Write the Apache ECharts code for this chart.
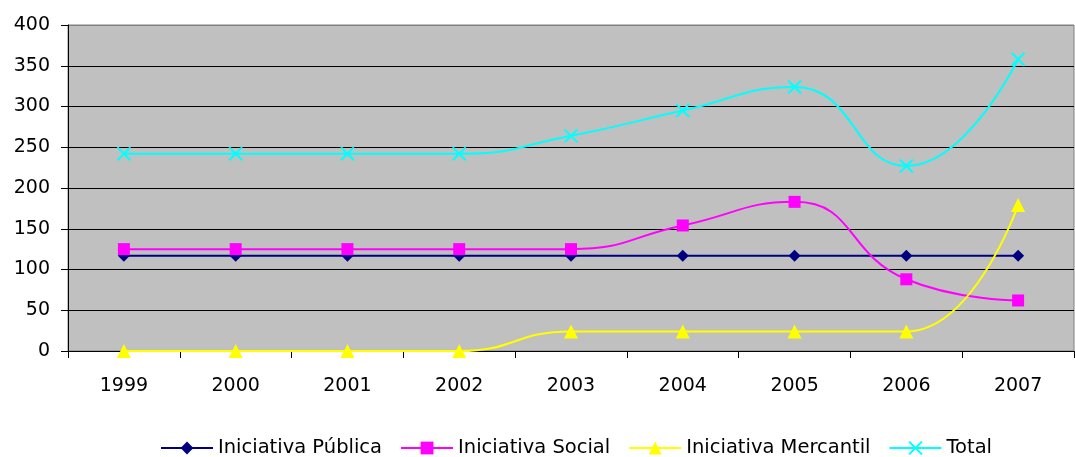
<!DOCTYPE html>
<html>
<head>
<meta charset="utf-8">
<script src="https://cdn.jsdelivr.net/npm/echarts@6/dist/echarts.min.js"></script>
<style>
html,body{margin:0;padding:0;background:#fff;}
#chart{width:1075px;height:457px;}
</style>
</head>
<body>
<div id="chart"></div>
<script>
const years = ['1999','2000','2001','2002','2003','2004','2005','2006','2007'];
const publica = [117,117,117,117,117,117,117,117,117];
const social = [125,125,125,125,125,154,183,88,62];
const mercantil = [0,0,0,0,24,24,24,24,179];
const total = [242,242,242,242,264,295,324,227,358];
const yTicks = {min:0, max:400, interval:50};

const FONT = '"DejaVu Sans", "Liberation Sans", Arial, sans-serif';
const chart = echarts.init(document.getElementById('chart'));
const gridColors = ['#000','#000','#000','#000','#000','#000','#000','#000','#808080'];
function mk(name, data, color, symbol, size, extra) {
  return Object.assign({
    name, type:'line', data, smooth:true, symbol, symbolSize:size,
    showSymbol:true,
    lineStyle:{color, width:2},
    itemStyle:{color},
    emphasis:{disabled:true},
    animation:false
  }, extra||{});
}
chart.setOption({
  animation:false,
  backgroundColor:'#fff',
  textStyle:{fontFamily:FONT},
  grid:{left:68, right:1, top:25, bottom:106, show:true, backgroundColor:'#C0C0C0', borderColor:'#808080', borderWidth:1},
  legend:{
    top:438, left:160, padding:0, itemWidth:52, itemHeight:16, itemGap:18,
    textStyle:{fontFamily:FONT, fontSize:19.5, color:'#000'},
    data:['Iniciativa Pública','Iniciativa Social','Iniciativa Mercantil','Total']
  },
  xAxis:{
    type:'category', data:years, boundaryGap:true,
    axisLine:{lineStyle:{color:'#000', width:1}},
    axisTick:{show:true, length:7, lineStyle:{color:'#000'}},
    axisLabel:{fontFamily:FONT, fontSize:19, color:'#000', margin:26},
    splitLine:{show:false}
  },
  yAxis:{
    type:'value', min:yTicks.min, max:yTicks.max, interval:yTicks.interval,
    axisLine:{show:true, lineStyle:{color:'#000', width:1}},
    axisTick:{show:true, length:7, lineStyle:{color:'#000'}},
    axisLabel:{fontFamily:FONT, fontSize:19, color:'#000', margin:18},
    splitLine:{show:true, lineStyle:{color:gridColors, width:1}}
  },
  series:[
    mk('Iniciativa Pública', publica, '#000080', 'diamond', 12),
    mk('Iniciativa Social', social, '#FF00FF', 'rect', 12),
    mk('Iniciativa Mercantil', mercantil, '#FFFF00', 'triangle', 14),
    mk('Total', total, '#00FFFF', 'path://M0,0L10,10M10,0L0,10', 13,
       {itemStyle:{color:'#00FFFF', borderColor:'#00FFFF', borderWidth:2}})
  ]
});
</script>
</body>
</html>
